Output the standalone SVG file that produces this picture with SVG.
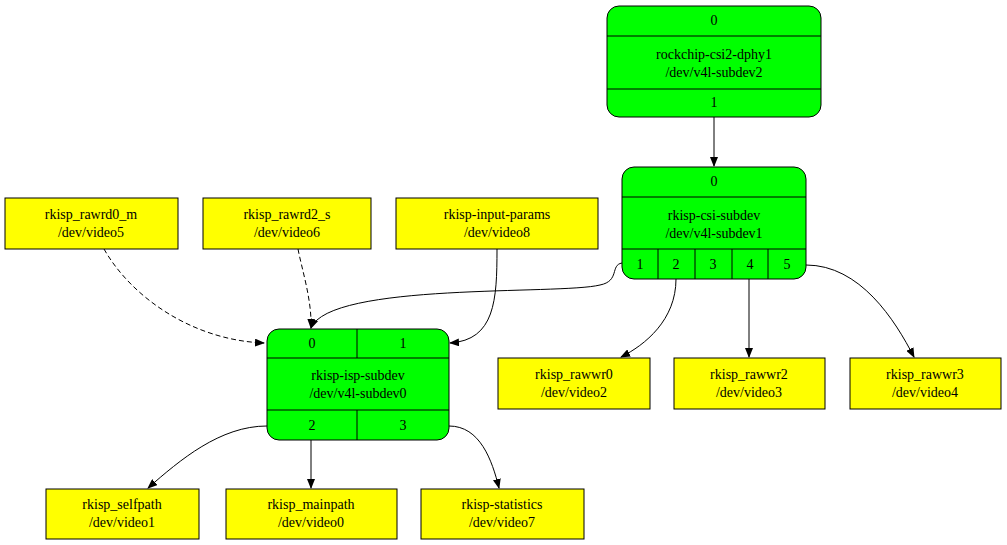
<svg xmlns="http://www.w3.org/2000/svg" width="1007" height="545" viewBox="0 0 1007 545">
<style>
text{font-family:"Liberation Serif","DejaVu Serif",serif;font-size:14px;text-anchor:middle;fill:#000}
.g{fill:#00ff00;stroke:#000;stroke-width:1}
.y{fill:#ffff00;stroke:#000;stroke-width:1}
.l{stroke:#000;stroke-width:1;fill:none}
.e{stroke:#000;stroke-width:1;fill:none;marker-end:url(#a)}
.d{stroke-dasharray:5,3}
</style>
<defs><marker id="a" markerWidth="10" markerHeight="8" refX="9" refY="4" orient="auto" markerUnits="userSpaceOnUse"><path d="M0,0 L10,4 L0,8 z" fill="#000"/></marker></defs>
<rect width="1007" height="545" fill="#fff"/>
<g id="dphy">
<rect class="g" x="607" y="6" width="214" height="111" rx="12"/>
<path class="l" d="M607,36 H821 M607,89 H821"/>
<text x="714" y="25">0</text><text x="714" y="59">rockchip-csi2-dphy1</text><text x="714" y="77">/dev/v4l-subdev2</text><text x="714" y="107">1</text>
</g>
<g id="csi">
<rect class="g" x="622" y="167" width="184" height="112" rx="12"/>
<path class="l" d="M622,197 H806 M622,249 H806 M658,249 V279 M695,249 V279 M732,249 V279 M768,249 V279"/>
<text x="714" y="186">0</text><text x="714" y="220">rkisp-csi-subdev</text><text x="714" y="238">/dev/v4l-subdev1</text>
<text x="640" y="269">1</text><text x="676" y="269">2</text><text x="713" y="269">3</text><text x="750" y="269">4</text><text x="787" y="269">5</text>
</g>
<g id="isp">
<rect class="g" x="267" y="329" width="182" height="111" rx="12"/>
<path class="l" d="M267,358 H449 M267,410 H449 M357,329 V358 M357,410 V440"/>
<text x="312" y="348">0</text><text x="403" y="348">1</text>
<text x="358" y="380">rkisp-isp-subdev</text><text x="358" y="398">/dev/v4l-subdev0</text>
<text x="312" y="430">2</text><text x="403" y="430">3</text>
</g>
<g id="rawrd0"><rect class="y" x="5" y="198" width="173" height="51"/><text x="91" y="219">rkisp_rawrd0_m</text><text x="91" y="237">/dev/video5</text></g>
<g id="rawrd2"><rect class="y" x="203" y="198" width="168" height="51"/><text x="287" y="219">rkisp_rawrd2_s</text><text x="287" y="237">/dev/video6</text></g>
<g id="inparams"><rect class="y" x="396" y="198" width="202" height="51"/><text x="497" y="219">rkisp-input-params</text><text x="497" y="237">/dev/video8</text></g>
<g id="rawwr0"><rect class="y" x="498" y="358" width="152" height="51"/><text x="574" y="379">rkisp_rawwr0</text><text x="574" y="397">/dev/video2</text></g>
<g id="rawwr2"><rect class="y" x="674" y="358" width="151" height="51"/><text x="749" y="379">rkisp_rawwr2</text><text x="749" y="397">/dev/video3</text></g>
<g id="rawwr3"><rect class="y" x="850" y="358" width="151" height="51"/><text x="925" y="379">rkisp_rawwr3</text><text x="925" y="397">/dev/video4</text></g>
<g id="selfpath"><rect class="y" x="46" y="489" width="153" height="50"/><text x="122" y="509">rkisp_selfpath</text><text x="122" y="527">/dev/video1</text></g>
<g id="mainpath"><rect class="y" x="226" y="489" width="171" height="50"/><text x="311" y="509">rkisp_mainpath</text><text x="311" y="527">/dev/video0</text></g>
<g id="statistics"><rect class="y" x="421" y="489" width="163" height="50"/><text x="502" y="509">rkisp-statistics</text><text x="502" y="527">/dev/video7</text></g>
<g id="edges">
<path class="e" d="M714,117 V166"/>
<path class="e d" d="M104,249 C130,295 190,340 264,343"/>
<path class="e d" d="M298,249 C302,270 312,300 311,328"/>
<path class="e" d="M497,249 C497,300 495,340 450,343"/>
<path class="e" d="M622,263 C610,265 620,281 600,285 C560,295 330,282 311,328"/>
<path class="e" d="M676,279 C676,320 645,345 621,357"/>
<path class="e" d="M749,279 V357"/>
<path class="e" d="M806,265 C860,265 895,320 914,357"/>
<path class="e" d="M267,426 C220,426 180,460 148,488"/>
<path class="e" d="M311,440 V488"/>
<path class="e" d="M449,426 C480,426 492,460 499,488"/>
</g>
</svg>
